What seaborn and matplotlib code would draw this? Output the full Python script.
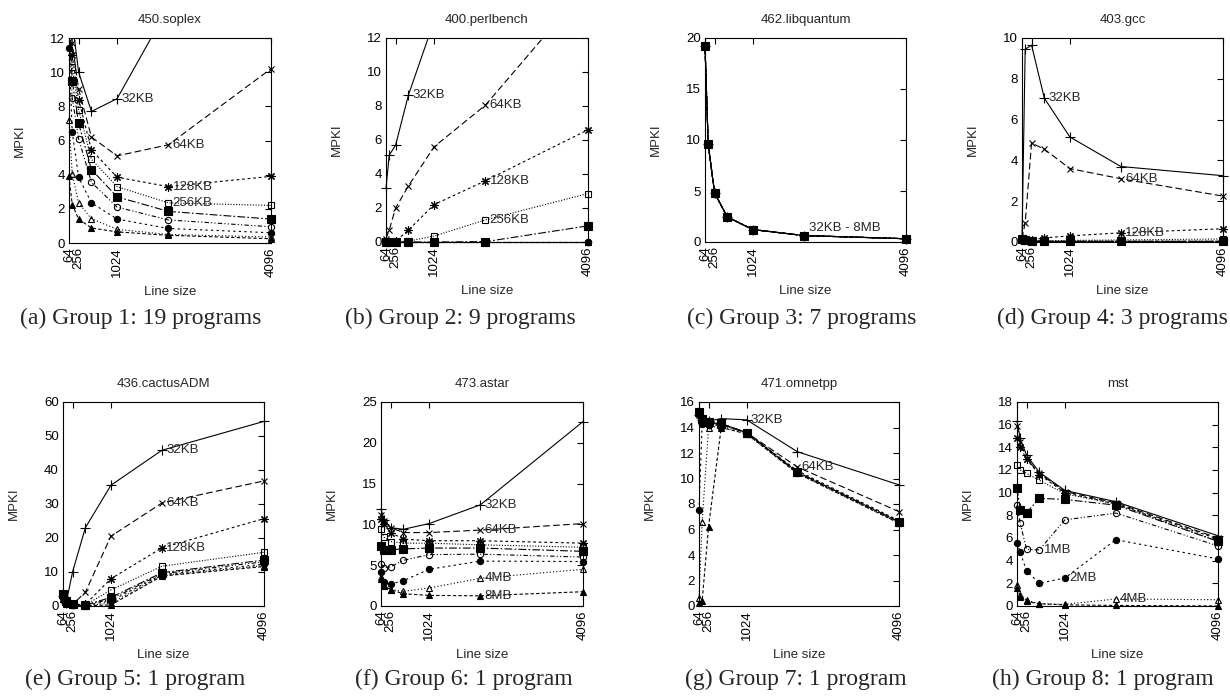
import matplotlib
matplotlib.use("Agg")
import matplotlib.pyplot as plt
import seaborn as sns
from matplotlib.patches import Rectangle

# ---------------- data ----------------
line_sizes = [64, 128, 256, 512, 1024, 2048, 4096]
cache_sizes = ["32KB", "64KB", "128KB", "256KB", "512KB", "1MB", "2MB", "4MB", "8MB"]
xtick_values = [64, 256, 1024, 4096]

soplex = [
    [25.0, 13.0, 10.0, 7.7, 8.45, 13.8, 20.0],
    [20.0, 11.7, 9.0, 6.2, 5.1, 5.75, 10.2],
    [16.0, 11.0, 8.4, 5.45, 3.85, 3.3, 3.9],
    [14.0, 10.3, 7.8, 4.9, 3.3, 2.35, 2.2],
    [13.5, 9.5, 7.0, 4.3, 2.7, 1.85, 1.4],
    [12.5, 8.5, 6.1, 3.55, 2.1, 1.35, 0.95],
    [11.4, 6.5, 3.85, 2.35, 1.4, 0.85, 0.6],
    [7.2, 4.05, 2.35, 1.42, 0.8, 0.5, 0.35],
    [3.9, 2.25, 1.4, 0.88, 0.65, 0.45, 0.25],
]
perlbench = [
    [3.15, 5.1, 5.7, 8.65, 13.0, 20.0, 30.0],
    [0.2, 0.7, 2.0, 3.3, 5.6, 8.05, 15.1],
    [0.0, 0.0, 0.05, 0.7, 2.2, 3.6, 6.6],
    [0.0, 0.0, 0.0, 0.05, 0.35, 1.3, 2.85],
    [0.0, 0.0, 0.0, 0.0, 0.0, 0.02, 0.95],
    [0.0, 0.0, 0.0, 0.0, 0.0, 0.0, 0.0],
    [0.0, 0.0, 0.0, 0.0, 0.0, 0.0, 0.0],
    [0.0, 0.0, 0.0, 0.0, 0.0, 0.0, 0.0],
    [0.0, 0.0, 0.0, 0.0, 0.0, 0.0, 0.0],
]
libquantum_all = [19.2, 9.6, 4.8, 2.45, 1.22, 0.63, 0.32]
libquantum = [libquantum_all for _ in cache_sizes]
gcc = [
    [0.15, 9.45, 9.65, 7.05, 5.15, 3.7, 3.25],
    [0.15, 0.95, 4.85, 4.55, 3.6, 3.1, 2.25],
    [0.1, 0.08, 0.1, 0.2, 0.3, 0.45, 0.65],
    [0.1, 0.05, 0.05, 0.05, 0.08, 0.1, 0.15],
    [0.15, 0.1, 0.05, 0.03, 0.03, 0.03, 0.03],
    [0.12, 0.08, 0.05, 0.03, 0.03, 0.03, 0.03],
    [0.12, 0.08, 0.05, 0.03, 0.03, 0.03, 0.03],
    [0.12, 0.08, 0.05, 0.03, 0.03, 0.03, 0.03],
    [0.12, 0.08, 0.05, 0.03, 0.03, 0.03, 0.03],
]
cactusADM = [
    [3.0, 1.0, 10.0, 23.0, 35.5, 45.8, 54.3],
    [3.5, 1.5, 0.5, 4.0, 20.5, 30.3, 36.8],
    [3.0, 1.5, 0.5, 0.5, 8.0, 17.1, 25.7],
    [3.0, 1.2, 0.5, 0.3, 4.7, 11.7, 15.8],
    [3.5, 1.5, 0.6, 0.3, 2.5, 9.8, 13.5],
    [3.0, 1.2, 0.5, 0.3, 2.0, 9.5, 13.0],
    [2.5, 1.0, 0.4, 0.2, 1.5, 9.2, 12.3],
    [2.2, 0.8, 0.3, 0.2, 0.8, 9.0, 11.9],
    [2.0, 0.7, 0.3, 0.1, 0.3, 8.8, 11.6],
]
astar = [
    [11.9, 10.5, 9.6, 9.4, 10.1, 12.4, 22.6],
    [11.2, 10.4, 9.6, 9.0, 9.0, 9.3, 10.1],
    [10.7, 10.0, 9.0, 8.2, 8.0, 8.0, 7.7],
    [9.4, 8.4, 7.9, 7.7, 7.7, 7.5, 7.2],
    [7.3, 6.9, 6.9, 7.0, 7.1, 7.1, 6.7],
    [5.2, 4.7, 4.8, 5.6, 6.3, 6.35, 6.0],
    [4.2, 3.0, 2.7, 3.1, 4.5, 5.5, 5.45],
    [3.5, 2.6, 2.0, 1.8, 2.2, 3.4, 4.5],
    [3.3, 2.5, 2.0, 1.5, 1.3, 1.25, 1.75],
]
omnetpp = [
    [15.0, 14.6, 14.5, 14.7, 14.6, 12.1, 9.5],
    [15.0, 14.5, 14.3, 14.3, 13.6, 10.9, 7.4],
    [15.2, 14.7, 14.4, 14.3, 13.6, 10.6, 6.7],
    [15.1, 14.6, 14.4, 14.3, 13.6, 10.5, 6.6],
    [15.2, 14.7, 14.4, 14.3, 13.6, 10.5, 6.6],
    [15.0, 14.3, 14.2, 14.2, 13.6, 10.5, 6.6],
    [7.5, 14.3, 14.2, 14.2, 13.6, 10.5, 6.6],
    [0.6, 6.6, 14.0, 14.1, 13.5, 10.4, 6.5],
    [0.25, 0.4, 6.2, 14.0, 13.5, 10.4, 6.5],
]
mst = [
    [16.3, 14.8, 13.3, 11.8, 10.2, 9.2, 6.2],
    [15.9, 14.5, 13.0, 11.7, 10.1, 9.1, 6.0],
    [14.8, 14.0, 12.95, 11.6, 10.0, 9.0, 5.9],
    [12.4, 12.0, 11.7, 11.1, 9.9, 9.0, 5.7],
    [10.4, 8.5, 8.25, 9.5, 9.4, 8.9, 5.7],
    [8.9, 7.3, 5.0, 4.95, 7.6, 8.2, 5.3],
    [5.6, 4.75, 3.1, 2.0, 2.47, 5.85, 4.15],
    [1.85, 0.97, 0.53, 0.2, 0.15, 0.62, 0.55],
    [1.6, 0.8, 0.4, 0.2, 0.1, 0.05, 0.0],
]

titles = ["450.soplex", "400.perlbench", "462.libquantum", "403.gcc",
          "436.cactusADM", "473.astar", "471.omnetpp", "mst"]
captions = ["(a) Group 1: 19 programs", "(b) Group 2: 9 programs",
            "(c) Group 3: 7 programs", "(d) Group 4: 3 programs",
            "(e) Group 5: 1 program", "(f) Group 6: 1 program",
            "(g) Group 7: 1 program", "(h) Group 8: 1 program"]
panels = [soplex, perlbench, libquantum, gcc, cactusADM, astar, omnetpp, mst]
ymax = [12, 12, 20, 10, 60, 25, 16, 18]
ystep = [2, 2, 5, 2, 10, 5, 2, 2]
# labels: (series index, line-size index)
point_labels = [
    [(0, 4), (1, 5), (2, 5), (3, 5)],
    [(0, 3), (1, 5), (2, 5), (3, 5)],
    [],
    [(0, 3), (1, 5), (2, 5)],
    [(0, 5), (1, 5), (2, 5)],
    [(0, 5), (1, 5), (7, 5), (8, 5)],
    [(0, 4), (1, 5)],
    [(5, 3), (6, 4), (7, 5)],
]

# ---------------- styles ----------------
markers = ["+", "x", (8, 2, 0), "s", "s", "o", "o", "^", "^"]
filled = [True, True, True, False, True, False, True, False, True]
msizes = [6.5, 5, 6, 4.5, 5.5, 4.5, 4.5, 4.5, 4.5]
dashes = ["-", (0, (6, 3)), (0, (2.5, 2.5)), (0, (1, 1.5)), (0, (7, 2, 1.5, 2)),
          (0, (4, 2, 1, 2, 1, 2)), (0, (2, 3)), (0, (1, 2)), (0, (3, 2))]

sns.set_style("white")
plt.rcParams["font.family"] = ["Liberation Sans", "DejaVu Sans"]
plt.rcParams["axes.linewidth"] = 0.8

fig = plt.figure(figsize=(12.3, 6.98), dpi=100)
W, H = 1230, 698
boxes = [(69, 271, 38, 243), (386, 588, 38, 242), (705, 906, 38, 242), (1022, 1223, 38, 242),
         (63, 264, 402, 606), (381, 583, 402, 606), (699, 899, 402, 606), (1017, 1218, 402, 606)]
cap_x = [141, 460, 802, 1112, 135, 464, 796, 1103]
cap_y = [318, 318, 318, 318, 679, 679, 679, 679]

for p in range(8):
    l, r, t, b = boxes[p]
    ax = fig.add_axes([l / W, 1 - b / H, (r - l) / W, (b - t) / H])
    clip = Rectangle((-0.06, -0.06), 1.12, 1.06, transform=ax.transAxes,
                     facecolor="none", edgecolor="none")
    ax.add_patch(clip)
    for s in range(9):
        before = len(ax.lines)
        sns.lineplot(x=line_sizes, y=panels[p][s], ax=ax, color="black",
                     linestyle=dashes[s], linewidth=0.8, marker=markers[s],
                     markersize=msizes[s], markeredgecolor="black",
                     markeredgewidth=0.8,
                     markerfacecolor="black" if filled[s] else "none",
                     estimator=None, sort=False)
        for ln in ax.lines[before:]:
            ln.set_clip_path(clip)
    for (s, i) in point_labels[p]:
        ax.annotate(cache_sizes[s], (line_sizes[i], panels[p][s][i]),
                    xytext=(3, 0), textcoords="offset points",
                    ha="left", va="center", fontsize=9.5)
    if p == 2:
        ax.text(2150, 1.4, "32KB - 8MB", ha="left", va="center", fontsize=9.5)
    ax.set_xlim(64, 4096)
    ax.set_ylim(0, ymax[p])
    ax.set_xticks(xtick_values)
    ax.set_xticklabels([str(v) for v in xtick_values], rotation=90)
    ax.set_yticks(range(0, ymax[p] + 1, ystep[p]))
    ax.tick_params(direction="in", top=True, right=True, length=4, width=0.8,
                   labelsize=9.5, pad=3, colors="black")
    ax.set_title(titles[p], fontsize=9.5, pad=11)
    ax.set_ylabel("MPKI", fontsize=9.5)
    ax.set_xlabel("Line size", fontsize=9.5)
    ax.yaxis.set_label_coords(-0.215, 0.5)
    ax.xaxis.set_label_coords(0.5, -0.21)
    for sp in ax.spines.values():
        sp.set_color("black")
        sp.set_linewidth(0.8)
    fig.text(cap_x[p] / W, 1 - cap_y[p] / H, captions[p], ha="center", va="center",
             fontsize=17, family=["Liberation Serif", "DejaVu Serif"])

fig.savefig("out.png", dpi=100)
